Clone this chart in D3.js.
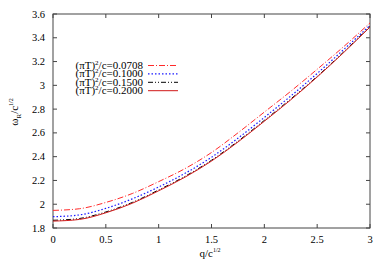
<!DOCTYPE html>
<html>
<head>
<meta charset="utf-8">
<script src="https://cdn.jsdelivr.net/npm/d3@7"></script>
<style>
  body { margin: 0; background: #fff; }
  text { font-family: "Liberation Serif", "DejaVu Serif", serif; }
</style>
</head>
<body>
<svg id="chart" width="389" height="273"></svg>
<script>
// q values (x) and omega_R values for each (pi T)^2/c
var qVals = [0, 0.25, 0.5, 0.75, 1, 1.25, 1.5, 1.75, 2, 2.25, 2.5, 2.75, 3];
var w0708 = [1.948, 1.962, 2.015, 2.090, 2.190, 2.300, 2.435, 2.600, 2.775, 2.950, 3.135, 3.325, 3.525];
var w1000 = [1.895, 1.910, 1.965, 2.045, 2.145, 2.260, 2.395, 2.555, 2.730, 2.910, 3.100, 3.300, 3.505];
var w1500 = [1.865, 1.880, 1.935, 2.015, 2.120, 2.235, 2.370, 2.530, 2.705, 2.885, 3.075, 3.280, 3.495];
var w2000 = [1.858, 1.872, 1.928, 2.008, 2.113, 2.228, 2.363, 2.523, 2.698, 2.878, 3.070, 3.275, 3.490];
var seriesNames = ["0.0708", "0.1000", "0.1500", "0.2000"];
var xTicks = [0, 0.5, 1, 1.5, 2, 2.5, 3];
var yTicks = [1.8, 2, 2.2, 2.4, 2.6, 2.8, 3, 3.2, 3.4, 3.6];

var series = [
  { name: seriesNames[0], vals: w0708, color: "#ff2a2a", dash: "6,2,1,2", width: 1 },
  { name: seriesNames[1], vals: w1000, color: "#1a1aff", dash: "1.5,2", width: 1.2 },
  { name: seriesNames[2], vals: w1500, color: "#000000", dash: "5,2,1,2,1,2", width: 1 },
  { name: seriesNames[3], vals: w2000, color: "#d01818", dash: null, width: 1 }
];

var svg = d3.select("#chart");
var mLeft = 53, mRight = 370, mTop = 14, mBottom = 228;

var x = d3.scaleLinear().domain([0, 3]).range([mLeft, mRight]);
var y = d3.scaleLinear().domain([1.8, 3.6]).range([mBottom, mTop]);

// frame
svg.append("rect")
  .attr("x", mLeft).attr("y", mTop)
  .attr("width", mRight - mLeft).attr("height", mBottom - mTop)
  .attr("fill", "none").attr("stroke", "#444").attr("stroke-width", 1);

// ticks (inward, mirrored)
var tl = 4;
xTicks.forEach(function (t) {
  svg.append("line").attr("x1", x(t)).attr("x2", x(t)).attr("y1", mBottom).attr("y2", mBottom - tl).attr("stroke", "#444");
  svg.append("line").attr("x1", x(t)).attr("x2", x(t)).attr("y1", mTop).attr("y2", mTop + tl).attr("stroke", "#444");
  svg.append("text").attr("x", x(t)).attr("y", mBottom + 15)
    .attr("text-anchor", "middle").attr("font-size", 10.5).text(t);
});
yTicks.forEach(function (t) {
  svg.append("line").attr("x1", mLeft).attr("x2", mLeft + tl).attr("y1", y(t)).attr("y2", y(t)).attr("stroke", "#444");
  svg.append("line").attr("x1", mRight).attr("x2", mRight - tl).attr("y1", y(t)).attr("y2", y(t)).attr("stroke", "#444");
  svg.append("text").attr("x", mLeft - 8).attr("y", y(t) + 3.5)
    .attr("text-anchor", "end").attr("font-size", 10.5).text(t);
});

// curves
var line = d3.line()
  .x(function (d, i) { return x(qVals[i]); })
  .y(function (d) { return y(d); })
  .curve(d3.curveMonotoneX);

var g = svg.append("g");
series.forEach(function (s) {
  g.append("path")
    .attr("d", line(s.vals))
    .attr("fill", "none")
    .attr("stroke", s.color)
    .attr("stroke-width", s.width)
    .attr("stroke-dasharray", s.dash);
});

// legend
var lg = svg.append("g");
series.forEach(function (s, i) {
  var ly = 69 + i * 8.4;
  var t = lg.append("text").attr("x", 143).attr("y", ly)
    .attr("text-anchor", "end").attr("font-size", 11);
  t.append("tspan").text("(\u03c0T)");
  t.append("tspan").attr("font-size", 7).attr("dy", -4).text("2");
  t.append("tspan").attr("dy", 4).text("/c=" + s.name);
  lg.append("line")
    .attr("x1", 148).attr("x2", 178)
    .attr("y1", ly - 3.5).attr("y2", ly - 3.5)
    .attr("stroke", s.color).attr("stroke-width", s.width)
    .attr("stroke-dasharray", s.dash);
});

// axis labels
var xl = svg.append("text").attr("x", 210).attr("y", 257)
  .attr("text-anchor", "middle").attr("font-size", 11);
xl.append("tspan").text("q/c");
xl.append("tspan").attr("font-size", 6).attr("dy", -5).text("1/2");

var yl = svg.append("text")
  .attr("transform", "translate(18,112) rotate(-90)")
  .attr("text-anchor", "middle").attr("font-size", 11);
yl.append("tspan").text("\u03c9");
yl.append("tspan").attr("font-size", 7).attr("dy", 3).text("R");
yl.append("tspan").attr("dy", -3).text("/c");
yl.append("tspan").attr("font-size", 6).attr("dy", -5).text("1/2");
</script>
</body>
</html>
